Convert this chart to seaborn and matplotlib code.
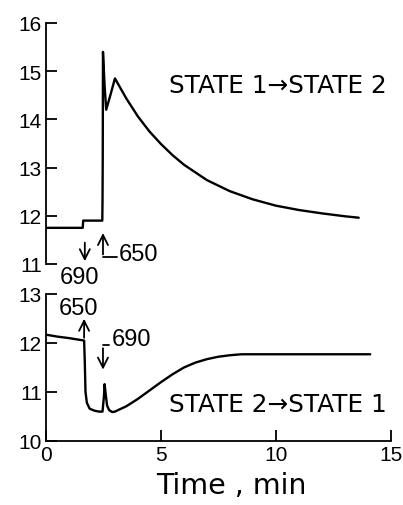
import numpy as np
import pandas as pd
import seaborn as sns
import matplotlib.pyplot as plt

# State 1 -> State 2 trace (top panel)
top_t = [0.0, 1.6, 1.62, 2.45, 2.46, 2.47, 2.48, 2.55, 2.62, 2.8, 3.0, 3.5, 4.0,
         4.5, 5.0, 5.5, 6.0, 7.0, 8.0, 9.0, 10.0, 11.0, 12.0, 13.0, 13.6]
top_y = [11.75, 11.75, 11.9, 11.9, 12.3, 13.2, 15.4, 14.7, 14.2, 14.5, 14.85, 14.43, 14.06,
         13.75, 13.49, 13.26, 13.06, 12.74, 12.51, 12.34, 12.21, 12.12, 12.05, 11.99, 11.96]

# State 2 -> State 1 trace (bottom panel)
bot_t = [0.0, 0.5, 1.0, 1.66, 1.69, 1.72, 1.78, 1.9, 2.1, 2.3, 2.46, 2.52, 2.55,
         2.6, 2.66, 2.75, 2.88, 3.0, 3.5, 4.0, 4.5, 5.0, 5.5, 6.0, 6.5, 7.0, 7.5, 8.0,
         8.5, 10.0, 12.0, 14.1]
bot_y = [12.17, 12.13, 12.1, 12.05, 11.6, 11.0, 10.78, 10.66, 10.62, 10.6, 10.6, 10.9, 11.16,
         10.95, 10.72, 10.63, 10.59, 10.6, 10.71, 10.86, 11.03, 11.2, 11.36, 11.5, 11.6, 11.67, 11.72, 11.75,
         11.77, 11.77, 11.77, 11.77]

top_ticks = [11, 12, 13, 14, 15, 16]
bot_ticks = [10, 11, 12, 13]
x_ticks = [0, 5, 10, 15]

sns.set_style('ticks')
plt.rcParams['font.family'] = ['Liberation Sans', 'DejaVu Sans']
plt.rcParams.update({'text.color': 'black', 'axes.labelcolor': 'black',
                     'xtick.color': 'black', 'ytick.color': 'black',
                     'axes.edgecolor': 'black'})

fig = plt.figure(figsize=(4.03, 5.06), dpi=100)
ax1 = fig.add_axes([0.114, 0.4763, 0.856, 0.4763])
ax2 = fig.add_axes([0.114, 0.1265, 0.856, 0.2905])

df_top = pd.DataFrame({'t': top_t, 'y': top_y})
df_bot = pd.DataFrame({'t': bot_t, 'y': bot_y})
sns.lineplot(data=df_top, x='t', y='y', sort=False, estimator=None, color='black', lw=1.7, ax=ax1)
sns.lineplot(data=df_bot, x='t', y='y', sort=False, estimator=None, color='black', lw=1.7, ax=ax2)

for ax in (ax1, ax2):
    ax.set_xlim(0, 15)
    ax.set_xlabel('')
    ax.set_ylabel('')
    for s in ('top', 'right'):
        ax.spines[s].set_visible(False)
    ax.spines['left'].set_linewidth(1.3)
    ax.tick_params(direction='in', length=8, width=1.3, labelsize=15, pad=3)
    ax.patch.set_alpha(0)

ax1.set_ylim(11, 16)
ax1.set_yticks(top_ticks)
ax1.spines['bottom'].set_visible(False)
ax1.set_xticks([])

ax2.set_ylim(10, 13)
ax2.set_yticks(bot_ticks)
ax2.set_xticks(x_ticks)
ax2.spines['bottom'].set_linewidth(1.3)
ax2.set_xlabel('Time , min', fontsize=20.5, labelpad=5, family='DejaVu Sans', x=0.536)

arrow = dict(arrowstyle='->', color='black', lw=1.3, mutation_scale=18)

# top panel markers
ax1.annotate('', xy=(1.69, 11.0), xytext=(1.69, 11.5), arrowprops=arrow, annotation_clip=False)
ax1.text(1.47, 10.72, '690', ha='center', va='center', fontsize=17, clip_on=False)
ax1.annotate('', xy=(2.48, 11.7), xytext=(2.48, 11.14), arrowprops=arrow)
ax1.plot([2.48, 3.1], [11.14, 11.14], color='black', lw=1.3)
ax1.text(3.15, 11.21, '650', ha='left', va='center', fontsize=17)
ax1.text(5.35, 14.72, 'STATE 1\u2192STATE 2', ha='left', va='center', fontsize=17.8, family='DejaVu Sans')

# bottom panel markers
ax2.annotate('', xy=(1.66, 12.55), xytext=(1.66, 12.05), arrowprops=arrow)
ax2.text(1.43, 12.72, '650', ha='center', va='center', fontsize=17, clip_on=False)
ax2.annotate('', xy=(2.48, 11.4), xytext=(2.48, 11.95), arrowprops=arrow)
ax2.plot([2.48, 2.75], [11.95, 11.95], color='black', lw=1.3)
ax2.text(2.84, 12.08, '690', ha='left', va='center', fontsize=17)
ax2.text(5.35, 10.75, 'STATE 2\u2192STATE 1', ha='left', va='center', fontsize=17.8, family='DejaVu Sans')

fig.savefig('out.png', dpi=100)
